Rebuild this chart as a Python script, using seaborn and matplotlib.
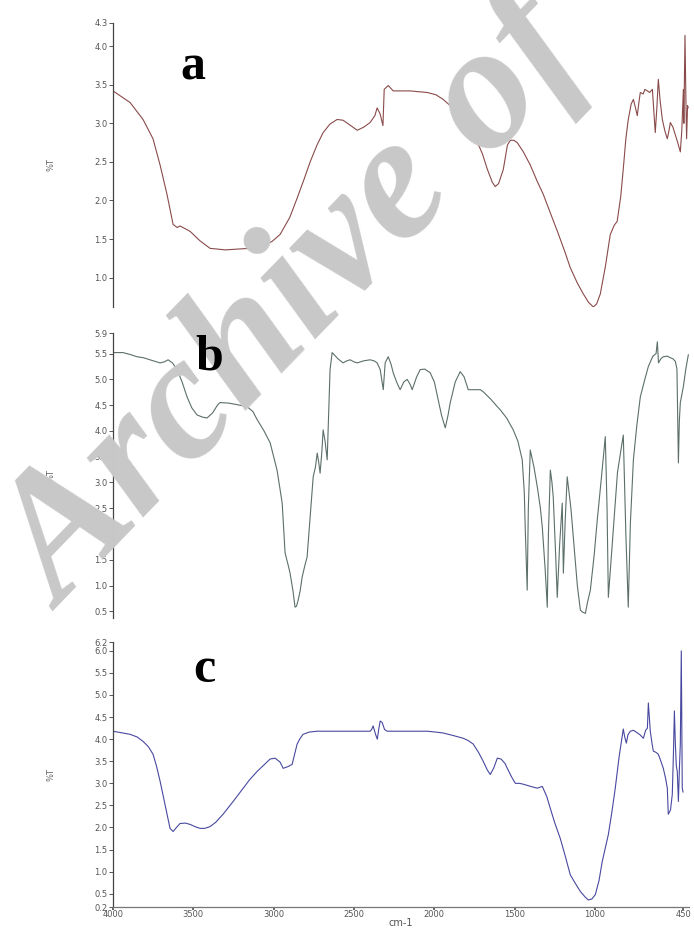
import matplotlib
matplotlib.use("Agg")
import matplotlib.pyplot as plt
import numpy as np
import pandas as pd
import seaborn as sns

# FTIR spectra, wavenumber (cm-1) vs %T
wn_a = [4000, 3894, 3813, 3751, 3707, 3664, 3626, 3600, 3583, 3520, 3460, 3396, 3300, 3228,
        3150, 3066, 3010, 2960, 2900, 2854, 2810, 2773, 2730, 2692, 2650, 2605, 2568, 2520,
        2480, 2440, 2400, 2370, 2356, 2337, 2320, 2312, 2287, 2256, 2200, 2150, 2100, 2045,
        1990, 1945, 1880, 1820, 1780, 1733, 1700, 1671, 1640, 1621, 1600, 1571, 1545, 1527,
        1505, 1484, 1446, 1403, 1360, 1322, 1280, 1234, 1190, 1154, 1110, 1073, 1040, 1010,
        990, 967, 935, 905, 880, 862, 840, 824, 808, 793, 775, 761, 748, 737, 725, 718, 700,
        690, 674, 660, 643, 632, 625, 615, 606, 595, 581, 565, 550, 540, 531, 515, 500, 485,
        469, 460, 450, 447, 440, 435, 430, 424, 420]
t_a = [3.42, 3.27, 3.05, 2.80, 2.46, 2.08, 1.69, 1.65, 1.67, 1.60, 1.48, 1.38, 1.36, 1.37,
       1.38, 1.41, 1.47, 1.56, 1.78, 2.03, 2.28, 2.50, 2.72, 2.88, 2.99, 3.05, 3.04, 2.97,
       2.91, 2.95, 3.01, 3.10, 3.20, 3.12, 2.97, 3.44, 3.49, 3.42, 3.42, 3.42, 3.41, 3.40,
       3.37, 3.31, 3.19, 3.01, 2.90, 2.76, 2.60, 2.41, 2.24, 2.18, 2.22, 2.40, 2.72, 2.78,
       2.78, 2.75, 2.63, 2.46, 2.25, 2.08, 1.85, 1.60, 1.35, 1.13, 0.93, 0.79, 0.68, 0.62,
       0.66, 0.79, 1.15, 1.56, 1.68, 1.73, 2.05, 2.41, 2.80, 3.05, 3.25, 3.31, 3.20, 3.10,
       3.30, 3.40, 3.38, 3.44, 3.42, 3.40, 3.44, 3.10, 2.88, 3.20, 3.57, 3.30, 3.05, 2.90,
       2.80, 2.90, 3.01, 2.95, 2.85, 2.75, 2.63, 2.90, 3.44, 3.00, 4.14, 3.40, 2.80, 3.23, 3.20]

wn_b = [4000, 3938, 3890, 3851, 3810, 3770, 3707, 3680, 3657, 3630, 3601, 3570, 3539, 3510,
        3477, 3445, 3415, 3380, 3350, 3334, 3280, 3228, 3166, 3130, 3103, 3060, 3022, 2979,
        2947, 2929, 2910, 2898, 2880, 2867, 2858, 2848, 2835, 2823, 2805, 2792, 2773, 2754,
        2740, 2729, 2720, 2711, 2700, 2692, 2680, 2667, 2655, 2649, 2636, 2600, 2568, 2545,
        2524, 2500, 2480, 2440, 2400, 2375, 2356, 2337, 2318, 2306, 2287, 2270, 2256, 2235,
        2213, 2190, 2169, 2150, 2138, 2110, 2088, 2060, 2026, 2000, 1976, 1955, 1932, 1915,
        1901, 1870, 1839, 1815, 1789, 1750, 1714, 1696, 1650, 1608, 1590, 1550, 1509, 1480,
        1453, 1440, 1434, 1428, 1422, 1415, 1403, 1390, 1380, 1359, 1340, 1328, 1310, 1297,
        1290, 1278, 1268, 1260, 1245, 1235, 1220, 1204, 1197, 1185, 1173, 1150, 1135, 1110,
        1091, 1075, 1060, 1045, 1029, 1005, 986, 960, 936, 925, 917, 900, 886, 860, 824, 808,
        793, 780, 761, 740, 718, 690, 668, 640, 620, 612, 605, 590, 575, 550, 531, 515, 500,
        490, 481, 475, 469, 450, 435, 419]
t_b = [5.52, 5.52, 5.48, 5.44, 5.42, 5.38, 5.32, 5.34, 5.38, 5.32, 5.19, 4.95, 4.66, 4.45,
       4.31, 4.27, 4.25, 4.35, 4.50, 4.55, 4.54, 4.51, 4.47, 4.38, 4.22, 4.00, 3.77, 3.24,
       2.60, 1.63, 1.40, 1.24, 0.90, 0.58, 0.60, 0.71, 0.90, 1.16, 1.40, 1.55, 2.33, 3.11,
       3.30, 3.57, 3.40, 3.18, 3.60, 4.02, 3.80, 3.44, 4.60, 5.19, 5.52, 5.40, 5.32, 5.36,
       5.38, 5.34, 5.32, 5.36, 5.38, 5.36, 5.32, 5.19, 4.80, 5.32, 5.44, 5.30, 5.13, 4.95,
       4.80, 4.95, 5.00, 4.90, 4.80, 5.05, 5.19, 5.20, 5.13, 4.95, 4.60, 4.30, 4.06, 4.30,
       4.55, 4.95, 5.15, 5.05, 4.80, 4.80, 4.80, 4.76, 4.62, 4.47, 4.41, 4.25, 4.02, 3.80,
       3.44, 2.80, 2.08, 1.50, 0.91, 2.50, 3.63, 3.44, 3.30, 2.91, 2.50, 2.13, 1.30, 0.58,
       2.00, 3.24, 3.00, 2.72, 1.60, 0.77, 1.80, 2.60, 1.24, 2.30, 3.11, 2.50, 1.94, 1.00,
       0.52, 0.48, 0.46, 0.70, 0.91, 1.60, 2.27, 3.10, 3.89, 2.50, 0.77, 1.50, 2.13, 3.20,
       3.92, 2.00, 0.58, 2.20, 3.44, 4.10, 4.66, 5.00, 5.25, 5.45, 5.50, 5.73, 5.32, 5.40,
       5.44, 5.45, 5.42, 5.40, 5.35, 5.20, 3.38, 4.20, 4.55, 4.86, 5.20, 5.48]

wn_c = [4000, 3894, 3850, 3813, 3780, 3751, 3730, 3707, 3676, 3645, 3626, 3605, 3583, 3550,
        3520, 3490, 3458, 3430, 3396, 3360, 3315, 3250, 3190, 3150, 3103, 3060, 3022, 2991,
        2960, 2941, 2910, 2885, 2870, 2854, 2835, 2817, 2780, 2729, 2600, 2500, 2400, 2390,
        2381, 2365, 2355, 2345, 2337, 2325, 2310, 2294, 2200, 2100, 2044, 1990, 1945, 1880,
        1820, 1790, 1758, 1725, 1696, 1670, 1652, 1630, 1608, 1585, 1560, 1546, 1520, 1496,
        1470, 1446, 1400, 1359, 1328, 1300, 1278, 1250, 1216, 1185, 1154, 1120, 1091, 1060,
        1042, 1020, 998, 975, 955, 935, 917, 895, 874, 850, 824, 815, 805, 795, 780, 760, 740,
        720, 699, 685, 674, 668, 660, 656, 645, 637, 620, 606, 590, 575, 560, 550, 544, 530,
        519, 512, 506, 500, 494, 488, 481, 475, 469, 463, 457, 452]
t_c = [4.18, 4.11, 4.05, 3.95, 3.83, 3.66, 3.40, 3.05, 2.52, 1.98, 1.91, 2.00, 2.09, 2.10,
       2.07, 2.02, 1.98, 1.98, 2.02, 2.12, 2.30, 2.60, 2.89, 3.08, 3.27, 3.42, 3.55, 3.57,
       3.48, 3.34, 3.38, 3.43, 3.65, 3.89, 4.02, 4.11, 4.16, 4.18, 4.18, 4.18, 4.18, 4.22,
       4.30, 4.10, 4.00, 4.25, 4.41, 4.38, 4.22, 4.18, 4.18, 4.18, 4.18, 4.16, 4.14, 4.08,
       4.02, 3.97, 3.89, 3.70, 3.50, 3.30, 3.20, 3.35, 3.57, 3.55, 3.45, 3.34, 3.15, 3.00,
       3.00, 2.98, 2.93, 2.89, 2.93, 2.70, 2.43, 2.10, 1.75, 1.35, 0.93, 0.72, 0.55, 0.42,
       0.36, 0.38, 0.48, 0.80, 1.23, 1.55, 1.84, 2.35, 2.89, 3.60, 4.23, 4.05, 3.91, 4.10,
       4.18, 4.20, 4.15, 4.10, 4.02, 4.20, 4.25, 4.82, 4.40, 4.18, 3.90, 3.73, 3.70, 3.66,
       3.50, 3.34, 3.10, 2.89, 2.30, 2.40, 2.75, 3.66, 4.64, 3.90, 3.40, 3.27, 2.59, 3.30,
       3.89, 6.00, 2.89, 2.80]

yticks_a = [1.0, 1.5, 2.0, 2.5, 3.0, 3.5, 4.0, 4.3]
yticks_b = [0.5, 1.0, 1.5, 2.0, 2.5, 3.0, 3.5, 4.0, 4.5, 5.0, 5.5, 5.9]
yticks_c = [0.2, 0.5, 1.0, 1.5, 2.0, 2.5, 3.0, 3.5, 4.0, 4.5, 5.0, 5.5, 6.0, 6.2]
xticks = [4000, 3500, 3000, 2500, 2000, 1500, 1000, 450]

sns.set_theme(style="white")
plt.rcParams['font.family'] = ['DejaVu Sans']

fig = plt.figure(figsize=(6.94, 9.30), dpi=100)
W, H = 694.0, 930.0
left, width = 113 / W, 576 / W

panels = [
    ("a", wn_a, t_a, "#8a4a4a", (0.62, 4.3), yticks_a, (23, 307), 80),
    ("b", wn_b, t_b, "#5c6f6b", (0.37, 5.9), yticks_b, (333, 618), 370),
    ("c", wn_c, t_c, "#4848a0", (0.2, 6.2), yticks_c, (642, 907), 682),
]

axes = []
for name, wn, t, col, ylim, yt, (top, bot), base in panels:
    ax = fig.add_axes([left, 1 - bot / H, width, (bot - top) / H])
    df = pd.DataFrame({"wavenumber": wn, "T": t})
    sns.lineplot(data=df, x="wavenumber", y="T", color=col, lw=0.8,
                 sort=False, estimator=None, ax=ax)
    ax.set_xlim(4000, 415)
    ax.set_ylim(*ylim)
    ax.set_yticks(yt)
    ax.set_yticklabels([f"{v:.1f}" for v in yt])
    ax.tick_params(axis="y", direction="out", length=3, width=0.7, colors="#555555",
                   labelsize=6, pad=1, left=True)
    for s in ["top", "right"]:
        ax.spines[s].set_visible(False)
    ax.spines["left"].set_color("#444444")
    ax.spines["left"].set_linewidth(0.9)
    ax.set_ylabel("%T", fontsize=6, color="#666666", labelpad=28)
    ax.set_xlabel("")
    if name == "c":
        ax.spines["bottom"].set_color("#777777")
        ax.spines["bottom"].set_linewidth(0.9)
        ax.set_xticks(xticks)
        ax.set_xticklabels([str(v) for v in xticks])
        ax.tick_params(axis="x", direction="out", length=2, colors="#555555",
                       labelsize=6, pad=0.5, bottom=True)
        ax.set_xlabel("cm-1", fontsize=7, color="#555555", labelpad=-1)
    else:
        ax.spines["bottom"].set_visible(False)
        ax.set_xticks([])
    ax.grid(False)
    lx = {"a": 180, "b": 195, "c": 193}[name]
    fig.text(lx / W, 1 - base / H, name, fontsize=36, fontweight="bold",
             family=["Liberation Serif"], color="black", va="baseline", ha="left",
             zorder=20)
    axes.append(ax)

# watermark (over the curves, under the panel letters)
fig.text(62 / W, 1 - 612 / H, "Archive of", fontsize=128, fontweight="bold",
         fontstyle="italic", family=["Liberation Serif"], color="#c8c8c8",
         rotation=46, rotation_mode="anchor", ha="left", va="baseline", zorder=10)

fig.savefig("out.png", dpi=100)
